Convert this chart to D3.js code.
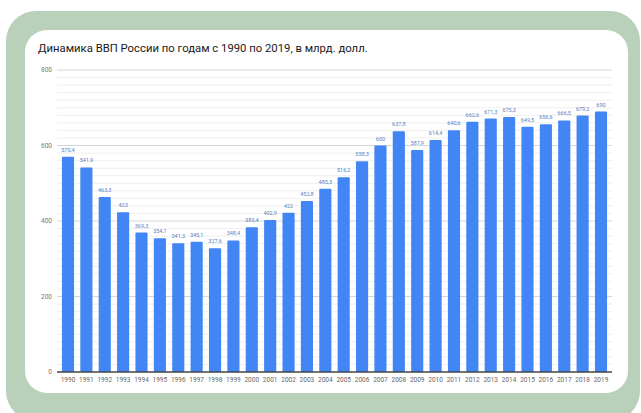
<!DOCTYPE html>
<html>
<head>
<meta charset="utf-8">
<script src="https://cdn.jsdelivr.net/npm/d3@7"></script>
<style>
  body { margin: 0; background: #fff; }
  svg { display: block; font-family: Roboto, "Noto Sans", sans-serif; }
</style>
</head>
<body>
<div id="chart"></div>
<script>
"use strict";

// data
const years = ["1990", "1991", "1992", "1993", "1994", "1995", "1996", "1997", "1998", "1999",
    "2000", "2001", "2002", "2003", "2004", "2005", "2006", "2007", "2008", "2009",
    "2010", "2011", "2012", "2013", "2014", "2015", "2016", "2017", "2018", "2019"];
const gdp = [570.4, 541.9, 463.3, 423, 369.3, 354.1, 341.3, 345.1, 327.6, 348.4,
    383.4, 402.9, 422, 452.8, 485.3, 516.2, 558.3, 600, 637.8, 587.9,
    614.4, 640.6, 662.6, 671.3, 675.3, 649.5, 656.6, 666.5, 679.2, 690];
const majorTicks = [0, 200, 400, 600, 800];
const minorTicks = d3.range(0, 801, 20);
const title = "Динамика ВВП России по годам с 1990 по 2019, в млрд. долл.";

const W = 641, H = 413;

const svg = d3.select("#chart")
    .append("svg")
    .attr("width", W)
    .attr("height", H);

// green frame and white card
svg.append("rect")
    .attr("x", 6).attr("y", 11)
    .attr("width", 634).attr("height", 410)
    .attr("rx", 30)
    .attr("fill", "#b9d0ba");

svg.append("rect")
    .attr("x", 25).attr("y", 30)
    .attr("width", 603).attr("height", 363)
    .attr("rx", 22)
    .attr("fill", "#fff");

svg.append("text")
    .attr("x", 38).attr("y", 52)
    .attr("font-size", 11.3)
    .attr("fill", "#1a1a1a")
    .text(title);

const x = d3.scaleBand()
    .domain(years)
    .range([58.8, 610.2])
    .paddingInner(0.34)
    .paddingOuter(0.17);

const y = d3.scaleLinear()
    .domain([0, 800])
    .range([372, 70]);

// gridlines
svg.append("g")
    .selectAll("line")
    .data(minorTicks.filter(d => d % 200 !== 0))
    .join("line")
    .attr("x1", 57).attr("x2", 612)
    .attr("y1", d => y(d)).attr("y2", d => y(d))
    .attr("stroke", "#ebebeb")
    .attr("stroke-width", 0.8);

svg.append("g")
    .selectAll("line")
    .data(majorTicks.filter(d => d > 0))
    .join("line")
    .attr("x1", 57).attr("x2", 612)
    .attr("y1", d => y(d)).attr("y2", d => y(d))
    .attr("stroke", "#d6d6d6")
    .attr("stroke-width", 1);

// y labels
svg.append("g")
    .selectAll("text")
    .data(majorTicks)
    .join("text")
    .attr("x", 52)
    .attr("y", d => y(d) + 2)
    .attr("text-anchor", "end")
    .attr("font-size", 6.5)
    .attr("fill", "#777")
    .text(d => d);

// bars
svg.append("g")
    .selectAll("rect")
    .data(gdp)
    .join("rect")
    .attr("x", (d, i) => x(years[i]))
    .attr("y", d => y(d))
    .attr("width", x.bandwidth())
    .attr("height", d => y(0) - y(d))
    .attr("rx", 1)
    .attr("fill", "#4285f4");

// value labels
svg.append("g")
    .selectAll("text")
    .data(gdp)
    .join("text")
    .attr("x", (d, i) => x(years[i]) + x.bandwidth() / 2)
    .attr("y", d => y(d) - 5)
    .attr("text-anchor", "middle")
    .attr("font-size", 5.5)
    .attr("fill", "#5a7fbf")
    .text(d => String(d).replace(".", ","));

// baseline
svg.append("line")
    .attr("x1", 57).attr("x2", 612)
    .attr("y1", y(0)).attr("y2", y(0))
    .attr("stroke", "#444")
    .attr("stroke-width", 1.3);

// x labels
svg.append("g")
    .selectAll("text")
    .data(years)
    .join("text")
    .attr("x", d => x(d) + x.bandwidth() / 2)
    .attr("y", 382)
    .attr("text-anchor", "middle")
    .attr("font-size", 6.5)
    .attr("fill", "#666")
    .text(d => d);
</script>
</body>
</html>
